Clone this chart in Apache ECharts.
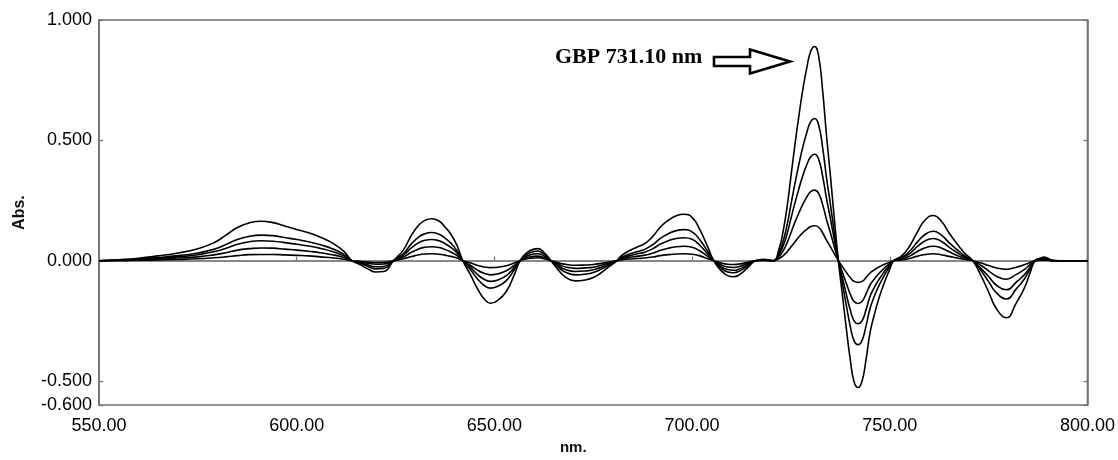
<!DOCTYPE html>
<html><head><meta charset="utf-8">
<script src="https://cdn.jsdelivr.net/npm/echarts@6/dist/echarts.min.js"></script>
<style>html,body{margin:0;padding:0;background:#fff}#c{width:1118px;height:460px}</style>
</head><body><div id="c"></div>
<script>
const wavelengths = [550,555,560,565,570,575,579,582,585,588,591,594,597,600,603,606,609,612,614,
616,618,620,622,624.5,
627,629,631,632.5,634,636,637.5,639,640.5,642,
644,646,647.5,649,651,653,655,656.5,
658,660,661,662.5,664.3,
666,668,670.5,673,675,677,679,681,
682,684,686,688,690,692,694,696,698,700,702,704,705.5,
707,709,710.5,712,714,716,718,720.5,
722,723,724,725,726,727,728,729,730,731,732,733,734,735,736,737,
738,739,740,741,742,743,744,745,746,747,748,749,750,751,
753,755,757,759,761,763,765,767,769,771,
773,775,777,779.5,782,784,785.5,786.7,
788,789,790,791,793,800];

const absC6 = [0,0.004,0.01,0.02,0.032,0.05,0.074,0.105,0.138,0.157,0.164,0.158,0.144,0.13,0.116,0.097,0.074,0.038,0,
-0.016,-0.034,-0.047,-0.045,0,
0.045,0.105,0.15,0.168,0.174,0.165,0.14,0.11,0.065,0,
-0.06,-0.125,-0.16,-0.177,-0.163,-0.128,-0.06,0,
0.03,0.048,0.05,0.035,0,
-0.035,-0.068,-0.084,-0.08,-0.07,-0.05,-0.025,0,
0.019,0.04,0.056,0.071,0.1,0.14,0.168,0.187,0.193,0.18,0.128,0.055,0,
-0.035,-0.062,-0.067,-0.058,-0.03,0,0.006,0,
0.05,0.12,0.22,0.35,0.48,0.6,0.71,0.8,0.87,0.89,0.85,0.71,0.52,0.35,0.17,0,
-0.14,-0.28,-0.41,-0.505,-0.527,-0.5,-0.41,-0.3,-0.23,-0.17,-0.12,-0.075,-0.035,0,
0.02,0.06,0.12,0.17,0.188,0.165,0.115,0.07,0.03,0,
-0.06,-0.13,-0.2,-0.237,-0.175,-0.115,-0.05,0,
0.01,0.015,0.01,0.002,0,0];

const absC4 = [0,0.003,0.007,0.013,0.021,0.032,0.047,0.066,0.088,0.101,0.106,0.104,0.096,0.088,0.079,0.066,0.05,0.026,0,
-0.011,-0.024,-0.034,-0.032,0,
0.03,0.07,0.1,0.112,0.117,0.11,0.094,0.073,0.043,0,
-0.039,-0.081,-0.104,-0.114,-0.105,-0.083,-0.039,0,
0.023,0.038,0.04,0.028,0,
-0.025,-0.048,-0.059,-0.056,-0.049,-0.035,-0.018,0,
0.013,0.027,0.037,0.047,0.066,0.093,0.112,0.125,0.129,0.12,0.086,0.037,0,
-0.026,-0.047,-0.05,-0.043,-0.022,0,0.004,0,
0.034,0.08,0.146,0.233,0.319,0.399,0.472,0.532,0.578,0.591,0.565,0.472,0.345,0.232,0.113,0,
-0.093,-0.185,-0.272,-0.334,-0.349,-0.331,-0.271,-0.199,-0.152,-0.113,-0.08,-0.05,-0.023,0,
0.013,0.039,0.078,0.11,0.122,0.107,0.075,0.046,0.02,0,
-0.04,-0.087,-0.134,-0.159,-0.117,-0.077,-0.034,0,
0.007,0.01,0.007,0.001,0,0];

const absC3 = [0,0.002,0.005,0.01,0.016,0.025,0.037,0.051,0.068,0.079,0.083,0.081,0.075,0.068,0.061,0.051,0.038,0.02,0,
-0.008,-0.018,-0.025,-0.024,0,
0.023,0.053,0.076,0.085,0.088,0.083,0.071,0.055,0.033,0,
-0.029,-0.061,-0.078,-0.086,-0.079,-0.062,-0.029,0,
0.017,0.028,0.029,0.02,0,
-0.019,-0.037,-0.045,-0.043,-0.038,-0.027,-0.013,0,
0.01,0.02,0.028,0.035,0.049,0.069,0.083,0.092,0.095,0.089,0.063,0.027,0,
-0.021,-0.037,-0.04,-0.034,-0.017,0,0.003,0,
0.026,0.06,0.11,0.175,0.239,0.298,0.353,0.398,0.432,0.442,0.422,0.353,0.258,0.174,0.084,0,
-0.07,-0.139,-0.204,-0.251,-0.262,-0.249,-0.204,-0.149,-0.114,-0.085,-0.06,-0.037,-0.017,0,
0.01,0.029,0.059,0.083,0.092,0.081,0.056,0.034,0.015,0,
-0.031,-0.066,-0.102,-0.121,-0.089,-0.059,-0.026,0,
0.005,0.008,0.005,0.001,0,0];

const absC2 = [0,0.001,0.003,0.007,0.011,0.016,0.024,0.033,0.044,0.05,0.053,0.052,0.048,0.044,0.039,0.033,0.025,0.013,0,
-0.005,-0.011,-0.015,-0.014,0,
0.015,0.035,0.05,0.056,0.058,0.055,0.047,0.036,0.022,0,
-0.02,-0.042,-0.053,-0.059,-0.054,-0.042,-0.02,0,
0.011,0.018,0.019,0.013,0,
-0.013,-0.026,-0.032,-0.03,-0.027,-0.019,-0.009,0,
0.006,0.013,0.018,0.023,0.031,0.043,0.052,0.058,0.06,0.056,0.04,0.017,0,
-0.015,-0.026,-0.028,-0.024,-0.012,0,0.002,0,
0.017,0.04,0.073,0.116,0.159,0.198,0.234,0.264,0.287,0.293,0.28,0.234,0.171,0.115,0.056,0,
-0.047,-0.094,-0.139,-0.17,-0.178,-0.169,-0.138,-0.101,-0.078,-0.057,-0.041,-0.025,-0.012,0,
0.006,0.019,0.038,0.054,0.06,0.053,0.037,0.022,0.01,0,
-0.019,-0.042,-0.065,-0.077,-0.057,-0.037,-0.016,0,
0.003,0.005,0.003,0.001,0,0];

const absC1 = [0,0.001,0.002,0.003,0.005,0.008,0.012,0.016,0.021,0.025,0.026,0.026,0.024,0.022,0.02,0.016,0.012,0.006,0,
-0.003,-0.006,-0.008,-0.007,0,
0.008,0.017,0.025,0.028,0.029,0.027,0.023,0.018,0.011,0,
-0.01,-0.021,-0.026,-0.029,-0.027,-0.021,-0.01,0,
0.007,0.011,0.012,0.008,0,
-0.008,-0.015,-0.019,-0.018,-0.016,-0.011,-0.006,0,
0.003,0.007,0.009,0.011,0.015,0.021,0.025,0.028,0.029,0.027,0.02,0.008,0,
-0.008,-0.015,-0.016,-0.014,-0.007,0,0.001,0,
0.009,0.02,0.036,0.057,0.078,0.098,0.116,0.13,0.142,0.145,0.139,0.116,0.085,0.057,0.028,0,
-0.024,-0.048,-0.07,-0.086,-0.09,-0.086,-0.07,-0.051,-0.039,-0.029,-0.02,-0.013,-0.006,0,
0.003,0.009,0.019,0.026,0.029,0.025,0.018,0.011,0.005,0,
-0.009,-0.02,-0.03,-0.036,-0.027,-0.017,-0.008,0,
0.002,0.002,0.002,0,0,0];

const seriesValues = [absC6, absC4, absC3, absC2, absC1];
const xTicks = [550, 600, 650, 700, 750, 800];
const yTicks = [-0.6, -0.5, 0, 0.5, 1.0];
const annotationText = 'GBP 731.10 nm';

const chart = echarts.init(document.getElementById('c'), null, {renderer: 'canvas'});
const axisColor = '#6f6f6f';
const labelFont = {fontFamily: '"Liberation Sans", Arial, sans-serif', fontSize: 18, color: '#000'};

const series = seriesValues.map((vals, i) => ({
  type: 'line',
  data: wavelengths.map((w, k) => [w, vals[k]]),
  showSymbol: false,
  smooth: 0.5,
  lineStyle: {color: '#000', width: 1.6},
  z: 3,
  silent: true,
  markLine: i === 0 ? {
    silent: true, symbol: 'none', label: {show: false},
    lineStyle: {color: '#888', width: 1.8, type: 'solid'},
    data: [{yAxis: 0}], z: 2
  } : undefined
}));

chart.setOption({
  animation: false,
  backgroundColor: '#fff',
  grid: {left: 99, right: 25, top: 20, bottom: 51, show: true, borderColor: axisColor, borderWidth: 1.5},
  xAxis: {
    type: 'value', min: 550, max: 800, interval: 50,
    name: 'nm.', nameLocation: 'middle', nameGap: 34,
    nameTextStyle: {fontFamily: '"Liberation Sans", Arial, sans-serif', fontSize: 15, fontWeight: 'bold', color: '#111', padding: [0, 40, 0, 0]},
    axisLine: {show: true, lineStyle: {color: axisColor, width: 1.5}},
    axisTick: {show: true, inside: true, length: 4, lineStyle: {color: axisColor, width: 1.2}},
    axisLabel: Object.assign({margin: 12, formatter: v => v.toFixed(2), showMinLabel: true, showMaxLabel: true}, labelFont),
    splitLine: {show: false}
  },
  yAxis: [{
    type: 'value', min: -0.6, max: 1.0,
    name: 'Abs.', nameLocation: 'middle', nameGap: 71, nameRotate: 90,
    nameTextStyle: {fontFamily: '"Liberation Sans", Arial, sans-serif', fontSize: 16, fontWeight: 'bold', color: '#111'},
    axisLine: {show: true, lineStyle: {color: axisColor, width: 1.5}},
    axisTick: {show: true, inside: true, length: 4, customValues: yTicks, lineStyle: {color: axisColor, width: 1.2}},
    axisLabel: Object.assign({margin: 7, customValues: yTicks, formatter: v => v.toFixed(3)}, labelFont),
    splitLine: {show: false}
  }, {
    type: 'value', min: -0.6, max: 1.0, position: 'right',
    axisLine: {show: true, lineStyle: {color: axisColor, width: 1.5}},
    axisTick: {show: true, inside: true, length: 4, customValues: yTicks, lineStyle: {color: axisColor, width: 1.2}},
    axisLabel: {show: false},
    splitLine: {show: false}
  }],
  graphic: [
    {type: 'text', left: 555, top: 46, z: 10,
     style: {text: annotationText, font: 'bold 22px "Liberation Serif", "Times New Roman", serif', fill: '#000'}},
    {type: 'polygon', z: 10,
     shape: {points: [[714, 57], [750, 57], [750, 49.5], [790, 61.5], [750, 73.5], [750, 66], [714, 66]]},
     style: {fill: '#fff', stroke: '#000', lineWidth: 2.6, lineJoin: 'miter'}}
  ],
  series: series
});
</script></body></html>
